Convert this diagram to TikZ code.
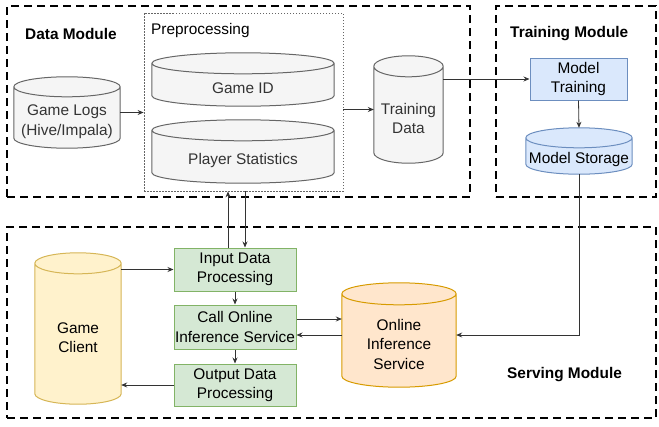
\documentclass[tikz,border=0pt]{standalone}
\usepackage{fontspec}
\setmainfont{Liberation Sans}
\usetikzlibrary{arrows.meta, positioning, calc, backgrounds}
\definecolor{grayfill}{HTML}{F5F5F5}
\definecolor{graydraw}{HTML}{666666}
\definecolor{bluefill}{HTML}{DAE8FC}
\definecolor{bluedraw}{HTML}{6C8EBF}
\definecolor{greenfill}{HTML}{D5E8D4}
\definecolor{greendraw}{HTML}{82B366}
\definecolor{orangefill}{HTML}{FFE6CC}
\definecolor{orangedraw}{HTML}{D79B00}
\definecolor{yellowfill}{HTML}{FFF2CC}
\definecolor{yellowdraw}{HTML}{D6B656}
\definecolor{textgray}{HTML}{333333}
\definecolor{linegray}{HTML}{333333}

% cylinder outline round a named node: node, cap radius, style
\newcommand{\drawcyl}[3]{%
  \path[#3] let \p1=(#1.north west), \p2=(#1.south east), \n1={(\x2-\x1)/2} in
    ([yshift=-#2]#1.north west) -- ([yshift=#2]#1.south west)
    arc[start angle=180, end angle=360, x radius=\n1, y radius=#2]
    -- ([yshift=-#2]#1.north east)
    arc[start angle=0, end angle=180, x radius=\n1, y radius=#2] -- cycle
    ([yshift=-#2]#1.north west)
    arc[start angle=180, end angle=360, x radius=\n1, y radius=#2];
}

\begin{document}
\begin{tikzpicture}[
  x=1pt, y=-1pt,
  font=\fontsize{15.4}{19.5}\selectfont,
  module/.style={rectangle, draw=black, line width=2pt, dash pattern=on 8pt off 5pt},
  prepbox/.style={rectangle, draw=graydraw, line width=0.8pt, dash pattern=on 1.5pt off 1.5pt},
  title/.style={anchor=west, inner sep=0pt, font=\fontsize{15.4}{19.5}\selectfont\bfseries},
  cylnode/.style={rectangle, inner sep=0pt},
  cyltext/.style={align=center, yshift=-9pt, text=#1},
  cylpath/.style={draw=#1draw, fill=#1fill, line width=1pt},
  box/.style={rectangle, draw=#1draw, fill=#1fill, line width=1pt, align=center, inner sep=0pt},
  arrow/.style={-{Stealth[length=6pt, width=5pt]}, line width=0.8pt, color=linegray}
]
  \useasboundingbox (0,0) rectangle (659,426);

  % Modules
  \node[module, minimum width=463pt, minimum height=191pt] (datamod) at (238.5,101.5) {};
  \node[module, minimum width=160pt, minimum height=191pt] (trainmod) at (576,101.5) {};
  \node[module, minimum width=649pt, minimum height=191pt] (servemod) at (331.5,322.5) {};
  \node[prepbox, minimum width=199pt, minimum height=178pt] (preproc) at (243.5,102) {};

  % Titles
  \node[title] (datatitle) at (25,34) {Data Module};
  \node[title] (traintitle) at (510,34) {Training Module};
  \node[title] (servetitle) at (507,375) {Serving Module};
  \node[anchor=west, inner sep=0pt] (preptitle) at (151,31) {Preprocessing};

  % Data Module
  \node[cylnode, minimum width=106pt, minimum height=71pt, label={[cyltext=textgray]center:{Game Logs\\(Hive/Impala)}}] (gamelogs) at (67,112.5) {};
  \node[cylnode, minimum width=182pt, minimum height=53pt, label={[cyltext=textgray]center:{Game ID}}] (gameid) at (243,79.5) {};
  \node[cylnode, minimum width=182pt, minimum height=63pt, label={[cyltext=textgray]center:{Player Statistics}}] (playerstats) at (243,151.5) {};
  \node[cylnode, minimum width=69pt, minimum height=107pt, label={[cyltext=textgray]center:{Training\\Data}}] (traindata) at (408.5,109.5) {};

  % Training Module
  \node[box=blue, minimum width=97pt, minimum height=42pt] (modeltrain) at (578.5,79) {Model\\Training};
  \node[cylnode, minimum width=106pt, minimum height=46pt, label={[cyltext=black]center:{Model Storage}}] (modelstore) at (579,151) {};

  % Serving Module
  \node[cylnode, minimum width=86pt, minimum height=151pt, label={[cyltext=black]center:{Game\\Client}}] (gameclient) at (78,328.5) {};
  \node[box=green, minimum width=122pt, minimum height=43pt] (input) at (235,269.5) {Input Data\\Processing};
  \node[box=green, minimum width=122pt, minimum height=44pt, below=13pt of input] (call) {Call Online\\Inference Service};
  \node[box=green, minimum width=122pt, minimum height=42pt, below=14pt of call] (output) {Output Data\\Processing};
  \node[cylnode, minimum width=114pt, minimum height=104pt, label={[cyltext=black]center:{Online\\Inference\\Service}}] (online) at (399,335) {};

  % Cylinders
  \begin{scope}[on background layer]
    \foreach \cname/\col/\rad in {gamelogs/gray/10pt, gameid/gray/10.5pt, playerstats/gray/10.5pt,
        traindata/gray/10.5pt, modelstore/blue/10pt, gameclient/yellow/10.5pt, online/orange/11pt}
      \drawcyl{\cname}{\rad}{cylpath=\col};
  \end{scope}

  % Arrows
  \draw[arrow] (gamelogs.east) -- (gamelogs.east -| preproc.west);
  \draw[arrow] (traindata.west -| preproc.east) -- (traindata.west);
  \draw[arrow] (modeltrain.west -| traindata.east) -- (modeltrain.west);
  \draw[arrow] (modeltrain.south) -- (modelstore.north);
  \draw[arrow] (modelstore.south) |- (online.east);
  \draw[arrow] ([xshift=-7pt]input.north) -- ([xshift=-7pt]input.north |- preproc.south);
  \draw[arrow] ([xshift=10pt]input.north |- preproc.south) -- ([xshift=10pt]input.north);
  \draw[arrow] (input.west -| gameclient.east) -- (input.west);
  \draw[arrow] (output.west) -- (output.west -| gameclient.east);
  \draw[arrow] (input.south) -- (call.north);
  \draw[arrow] (call.south) -- (output.north);
  \draw[arrow] ([yshift=8pt]call.east) -- ([yshift=8pt]call.east -| online.west);
  \draw[arrow] (online.west) -- (online.west -| call.east);
\end{tikzpicture}
\end{document}
